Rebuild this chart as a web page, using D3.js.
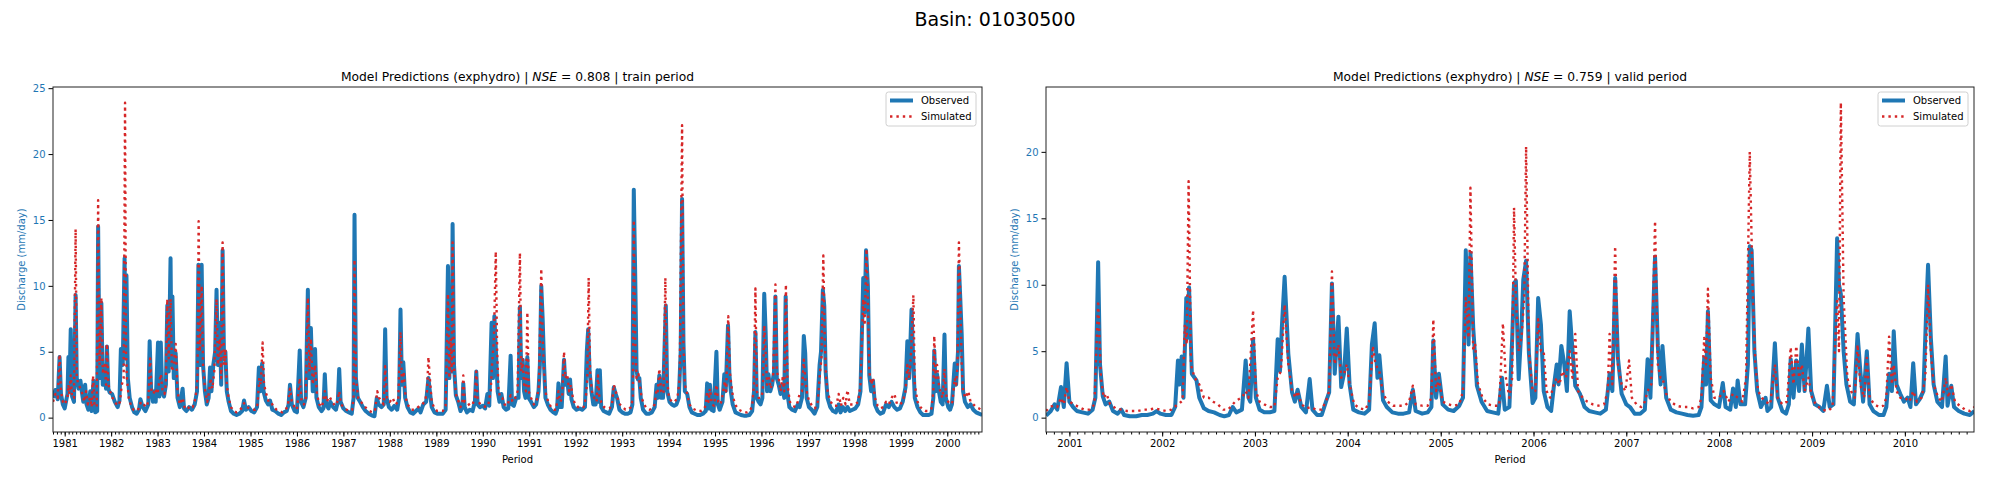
<!doctype html>
<html lang="">

<head>
    <meta charset="utf-8">
    <title>Basin 01030500 - Model Predictions</title>
    <style type="text/css">
        body {
            margin: 0px;
            background: #ffffff;
        }

        svg text {
            font-family: "DejaVu Sans", sans-serif;
        }
    </style>
</head>

<body>
    <script src="https://cdnjs.cloudflare.com/ajax/libs/d3/7.8.5/d3.min.js"></script>
    <div id="chart"></div>
    <script>
        // values: [decimal year, discharge mm/day]
        var trainObs = [[1980.75,1.5],[1980.80,2.1],[1980.85,1.4],[1980.89,4.6],[1980.92,1.8],[1980.96,1.0],[1981.00,0.7],[1981.06,1.8],[1981.08,4.6],[1981.10,2.0],[1981.13,6.7],[1981.16,1.6],[1981.20,1.2],[1981.235,9.3],[1981.26,3.0],[1981.30,2.2],[1981.34,2.8],[1981.36,2.2],[1981.40,1.2],[1981.44,2.5],[1981.47,1.0],[1981.51,0.6],[1981.55,2.0],[1981.58,0.5],[1981.62,2.8],[1981.66,0.4],[1981.70,0.5],[1981.72,14.5],[1981.75,3.0],[1981.79,8.7],[1981.82,2.5],[1981.86,3.5],[1981.89,2.2],[1981.91,5.4],[1981.94,2.2],[1981.97,1.9],[1982.02,1.8],[1982.08,1.2],[1982.14,0.8],[1982.18,1.3],[1982.21,5.2],[1982.25,4.0],[1982.29,12.1],[1982.31,4.5],[1982.33,10.8],[1982.36,3.0],[1982.40,1.5],[1982.45,0.8],[1982.50,0.4],[1982.55,0.3],[1982.60,0.6],[1982.63,1.4],[1982.68,0.8],[1982.74,0.5],[1982.80,1.0],[1982.83,5.8],[1982.86,2.2],[1982.90,1.2],[1982.93,2.0],[1982.96,1.2],[1983.01,5.7],[1983.04,1.6],[1983.07,5.7],[1983.10,2.0],[1983.14,1.6],[1983.18,2.5],[1983.21,8.5],[1983.24,3.5],[1983.28,12.1],[1983.30,4.0],[1983.32,9.2],[1983.35,3.0],[1983.39,4.9],[1983.43,1.5],[1983.48,0.8],[1983.54,2.2],[1983.57,0.7],[1983.62,0.5],[1983.68,0.8],[1983.74,0.6],[1983.80,1.0],[1983.85,2.0],[1983.88,11.6],[1983.91,4.0],[1983.95,11.6],[1983.98,4.0],[1984.02,2.0],[1984.06,1.0],[1984.10,1.5],[1984.13,3.8],[1984.16,2.0],[1984.20,4.0],[1984.24,5.0],[1984.27,9.7],[1984.30,4.0],[1984.34,7.2],[1984.37,2.5],[1984.40,12.7],[1984.43,4.5],[1984.46,5.0],[1984.49,2.0],[1984.53,1.2],[1984.58,0.5],[1984.64,0.3],[1984.70,0.2],[1984.76,0.3],[1984.82,0.5],[1984.86,1.3],[1984.90,0.6],[1984.96,0.8],[1985.02,0.5],[1985.08,0.4],[1985.14,0.8],[1985.18,3.8],[1985.21,2.0],[1985.25,4.1],[1985.28,2.0],[1985.33,1.3],[1985.38,1.0],[1985.42,1.3],[1985.47,0.6],[1985.53,0.5],[1985.60,0.3],[1985.66,0.2],[1985.72,0.4],[1985.78,0.5],[1985.82,1.0],[1985.85,2.5],[1985.89,1.0],[1985.95,0.5],[1986.00,0.4],[1986.06,5.1],[1986.09,1.2],[1986.14,0.8],[1986.19,1.5],[1986.235,9.7],[1986.26,3.0],[1986.30,6.8],[1986.34,2.0],[1986.39,5.2],[1986.42,1.5],[1986.47,0.8],[1986.53,0.5],[1986.57,0.7],[1986.60,3.3],[1986.63,1.0],[1986.68,0.7],[1986.72,1.2],[1986.78,0.8],[1986.84,0.6],[1986.88,1.2],[1986.91,3.7],[1986.94,1.2],[1987.00,0.7],[1987.06,0.5],[1987.12,0.4],[1987.18,0.3],[1987.22,1.5],[1987.24,15.4],[1987.27,3.0],[1987.31,1.5],[1987.36,1.2],[1987.42,0.8],[1987.48,0.5],[1987.55,0.3],[1987.62,0.15],[1987.67,0.1],[1987.72,1.5],[1987.76,1.0],[1987.82,0.8],[1987.87,1.0],[1987.90,6.7],[1987.93,1.5],[1987.98,0.8],[1988.04,0.6],[1988.10,0.9],[1988.16,0.6],[1988.20,1.5],[1988.23,8.2],[1988.26,2.5],[1988.29,4.2],[1988.33,1.5],[1988.38,0.8],[1988.44,0.4],[1988.50,0.3],[1988.56,0.5],[1988.62,0.7],[1988.66,0.4],[1988.72,1.0],[1988.78,1.2],[1988.83,3.0],[1988.86,2.0],[1988.90,0.8],[1988.96,0.4],[1989.02,0.3],[1989.08,0.3],[1989.14,0.3],[1989.20,0.6],[1989.25,11.5],[1989.28,3.0],[1989.30,8.0],[1989.33,3.5],[1989.35,14.7],[1989.38,4.0],[1989.42,1.7],[1989.47,1.2],[1989.52,0.5],[1989.56,0.8],[1989.58,2.6],[1989.61,0.8],[1989.66,0.4],[1989.72,0.6],[1989.78,0.5],[1989.83,1.2],[1989.86,3.5],[1989.89,1.0],[1989.94,0.8],[1990.00,0.9],[1990.05,0.7],[1990.10,1.8],[1990.14,0.9],[1990.19,7.2],[1990.22,3.0],[1990.25,7.7],[1990.29,4.5],[1990.32,2.0],[1990.36,1.2],[1990.40,1.8],[1990.45,0.8],[1990.50,0.6],[1990.55,0.7],[1990.60,4.7],[1990.63,1.0],[1990.67,0.9],[1990.72,1.5],[1990.77,1.5],[1990.80,8.4],[1990.83,3.0],[1990.86,4.4],[1990.89,2.0],[1990.92,1.5],[1990.96,4.6],[1990.99,1.5],[1991.04,1.2],[1991.10,0.8],[1991.15,1.0],[1991.20,2.0],[1991.23,4.0],[1991.26,10.0],[1991.29,7.5],[1991.32,4.0],[1991.35,1.5],[1991.40,1.0],[1991.46,0.6],[1991.52,0.4],[1991.57,0.3],[1991.60,0.6],[1991.63,2.6],[1991.66,0.8],[1991.70,0.8],[1991.75,4.4],[1991.78,2.5],[1991.82,2.9],[1991.85,1.8],[1991.88,2.9],[1991.91,1.4],[1991.96,0.8],[1992.02,0.6],[1992.08,0.7],[1992.14,0.6],[1992.20,0.8],[1992.24,5.0],[1992.27,6.7],[1992.30,3.5],[1992.34,2.0],[1992.38,1.0],[1992.43,1.0],[1992.47,3.6],[1992.49,1.2],[1992.52,3.6],[1992.55,0.8],[1992.60,0.5],[1992.66,0.4],[1992.72,0.3],[1992.78,0.8],[1992.82,2.3],[1992.86,1.8],[1992.89,1.5],[1992.94,0.6],[1993.00,0.4],[1993.06,0.3],[1993.12,0.3],[1993.18,0.4],[1993.22,1.0],[1993.25,17.3],[1993.28,11.0],[1993.31,3.6],[1993.34,2.9],[1993.37,3.0],[1993.40,1.5],[1993.45,0.6],[1993.52,0.3],[1993.58,0.3],[1993.64,0.4],[1993.70,0.8],[1993.74,2.5],[1993.77,1.5],[1993.80,3.2],[1993.84,1.5],[1993.88,1.5],[1993.94,8.5],[1993.97,2.0],[1994.02,1.2],[1994.07,1.0],[1994.12,0.9],[1994.17,1.0],[1994.22,1.5],[1994.26,5.0],[1994.29,16.6],[1994.32,5.7],[1994.35,2.0],[1994.40,1.8],[1994.45,0.8],[1994.50,0.4],[1994.56,0.3],[1994.62,0.2],[1994.68,0.2],[1994.74,0.3],[1994.80,0.5],[1994.83,2.6],[1994.86,0.7],[1994.89,2.5],[1994.92,0.6],[1994.97,0.5],[1995.03,5.0],[1995.06,1.0],[1995.10,0.6],[1995.16,1.2],[1995.20,3.3],[1995.23,2.0],[1995.28,7.0],[1995.31,3.3],[1995.34,2.0],[1995.38,1.0],[1995.44,0.4],[1995.50,0.3],[1995.56,0.2],[1995.62,0.15],[1995.68,0.15],[1995.74,0.2],[1995.80,0.5],[1995.84,2.0],[1995.87,6.5],[1995.90,1.5],[1995.94,1.2],[1995.98,1.0],[1996.02,1.5],[1996.06,9.4],[1996.09,6.5],[1996.12,2.0],[1996.15,3.3],[1996.19,2.0],[1996.23,2.5],[1996.27,3.5],[1996.30,9.2],[1996.33,3.0],[1996.37,2.5],[1996.41,1.8],[1996.45,2.5],[1996.49,1.5],[1996.52,9.2],[1996.55,2.0],[1996.60,0.8],[1996.66,0.6],[1996.72,0.5],[1996.78,1.0],[1996.82,0.8],[1996.87,1.5],[1996.91,6.2],[1996.94,4.9],[1996.97,1.5],[1997.02,0.8],[1997.08,0.6],[1997.14,0.3],[1997.20,0.8],[1997.25,4.0],[1997.28,5.0],[1997.32,9.7],[1997.35,8.5],[1997.38,3.5],[1997.42,1.5],[1997.48,0.8],[1997.54,0.5],[1997.60,0.4],[1997.66,1.0],[1997.70,0.4],[1997.75,0.8],[1997.80,0.5],[1997.85,0.8],[1997.90,0.5],[1997.96,0.6],[1998.02,0.7],[1998.08,1.0],[1998.13,2.0],[1998.19,10.6],[1998.22,8.0],[1998.25,12.7],[1998.29,10.0],[1998.32,3.2],[1998.36,2.0],[1998.40,2.8],[1998.44,1.0],[1998.50,0.5],[1998.56,0.3],[1998.62,0.4],[1998.68,1.0],[1998.74,0.8],[1998.80,1.2],[1998.86,0.8],[1998.92,0.6],[1998.98,0.7],[1999.04,1.2],[1999.10,2.3],[1999.14,5.8],[1999.18,3.0],[1999.23,8.2],[1999.26,5.0],[1999.30,1.5],[1999.36,0.8],[1999.42,0.4],[1999.48,0.2],[1999.54,0.2],[1999.60,0.2],[1999.66,0.3],[1999.70,1.5],[1999.72,5.1],[1999.75,2.0],[1999.78,3.3],[1999.82,2.0],[1999.86,1.2],[1999.90,1.0],[1999.94,6.3],[1999.97,1.5],[2000.02,0.8],[2000.06,0.6],[2000.10,1.0],[2000.16,4.1],[2000.19,2.5],[2000.23,5.0],[2000.25,11.5],[2000.28,9.0],[2000.31,6.3],[2000.34,2.0],[2000.38,1.2],[2000.44,0.8],[2000.50,1.0],[2000.56,0.6],[2000.62,0.4],[2000.68,0.3],[2000.75,0.2]];

        var trainSim = [[1980.75,1.2],[1980.80,1.8],[1980.85,1.5],[1980.89,4.8],[1980.92,2.0],[1980.96,1.2],[1981.00,1.0],[1981.06,1.5],[1981.08,2.5],[1981.10,1.8],[1981.13,3.2],[1981.16,1.5],[1981.20,1.5],[1981.235,14.3],[1981.26,3.0],[1981.30,2.5],[1981.34,2.2],[1981.38,1.8],[1981.42,1.2],[1981.46,2.0],[1981.50,1.0],[1981.55,1.5],[1981.58,0.8],[1981.61,3.2],[1981.64,1.0],[1981.69,0.8],[1981.72,16.5],[1981.75,4.0],[1981.79,9.1],[1981.82,3.5],[1981.86,4.0],[1981.89,2.5],[1981.91,5.6],[1981.94,2.5],[1981.98,2.0],[1982.03,1.5],[1982.08,1.2],[1982.14,0.9],[1982.19,1.2],[1982.23,2.5],[1982.27,3.0],[1982.30,23.9],[1982.32,5.0],[1982.34,3.0],[1982.38,1.5],[1982.43,0.9],[1982.48,0.6],[1982.54,0.5],[1982.60,0.7],[1982.64,1.2],[1982.70,1.0],[1982.76,0.8],[1982.80,1.2],[1982.84,4.5],[1982.87,2.0],[1982.91,1.8],[1982.95,2.2],[1983.00,1.8],[1983.03,2.6],[1983.07,3.3],[1983.11,2.0],[1983.15,1.8],[1983.18,2.6],[1983.21,9.0],[1983.24,4.5],[1983.28,9.0],[1983.31,3.5],[1983.35,4.0],[1983.39,5.6],[1983.43,2.0],[1983.48,1.0],[1983.54,1.5],[1983.58,0.8],[1983.64,0.6],[1983.70,0.9],[1983.76,0.8],[1983.82,1.5],[1983.86,3.0],[1983.885,14.9],[1983.91,5.0],[1983.95,10.0],[1983.98,4.0],[1984.02,2.2],[1984.07,1.2],[1984.11,2.0],[1984.14,3.0],[1984.18,2.2],[1984.22,3.5],[1984.27,9.0],[1984.30,4.0],[1984.34,6.0],[1984.37,3.0],[1984.40,13.3],[1984.43,4.0],[1984.46,5.2],[1984.49,2.5],[1984.53,1.5],[1984.58,0.8],[1984.64,0.5],[1984.70,0.4],[1984.76,0.5],[1984.82,0.8],[1984.86,1.1],[1984.92,0.8],[1984.98,0.7],[1985.04,0.6],[1985.10,0.6],[1985.15,1.0],[1985.19,3.0],[1985.22,2.5],[1985.26,5.7],[1985.29,2.5],[1985.34,1.8],[1985.39,1.2],[1985.44,1.2],[1985.50,0.8],[1985.56,0.6],[1985.62,0.5],[1985.68,0.4],[1985.74,0.6],[1985.80,0.8],[1985.85,2.2],[1985.89,1.2],[1985.95,0.8],[1986.00,0.6],[1986.06,3.0],[1986.10,1.2],[1986.15,1.0],[1986.19,1.5],[1986.235,9.1],[1986.27,3.5],[1986.30,6.0],[1986.34,2.5],[1986.39,4.0],[1986.43,1.8],[1986.48,1.0],[1986.54,0.8],[1986.60,2.0],[1986.64,1.2],[1986.70,1.6],[1986.76,1.2],[1986.82,0.9],[1986.87,1.2],[1986.91,2.0],[1986.95,1.0],[1987.01,0.8],[1987.07,0.6],[1987.13,0.5],[1987.19,0.6],[1987.22,1.5],[1987.24,12.0],[1987.27,3.0],[1987.32,1.5],[1987.38,1.2],[1987.44,0.9],[1987.50,0.7],[1987.56,0.5],[1987.62,0.4],[1987.68,0.5],[1987.73,2.0],[1987.77,1.5],[1987.83,1.2],[1987.87,1.0],[1987.90,3.9],[1987.94,1.5],[1988.00,1.2],[1988.06,1.5],[1988.12,1.0],[1988.18,1.2],[1988.23,6.5],[1988.26,2.5],[1988.30,3.5],[1988.34,1.5],[1988.40,0.9],[1988.46,0.6],[1988.52,0.6],[1988.58,0.7],[1988.64,0.9],[1988.70,1.0],[1988.76,1.3],[1988.80,2.0],[1988.83,4.6],[1988.86,3.0],[1988.90,1.2],[1988.96,0.7],[1989.02,0.5],[1989.08,0.5],[1989.14,0.5],[1989.20,0.9],[1989.25,9.4],[1989.28,3.0],[1989.31,6.0],[1989.33,3.5],[1989.35,13.3],[1989.38,4.0],[1989.42,1.8],[1989.47,1.3],[1989.52,0.8],[1989.56,1.0],[1989.58,3.2],[1989.61,1.2],[1989.66,1.2],[1989.72,0.9],[1989.78,1.0],[1989.83,1.5],[1989.86,3.5],[1989.89,1.3],[1989.95,1.0],[1990.01,0.9],[1990.07,0.8],[1990.12,1.0],[1990.17,2.0],[1990.20,4.0],[1990.24,6.0],[1990.28,12.6],[1990.31,5.0],[1990.34,2.0],[1990.38,1.5],[1990.42,1.5],[1990.47,1.0],[1990.53,0.9],[1990.60,1.7],[1990.64,1.2],[1990.70,1.5],[1990.75,2.0],[1990.80,12.5],[1990.83,3.5],[1990.86,4.4],[1990.89,2.5],[1990.93,2.0],[1990.96,8.0],[1990.99,2.0],[1991.04,1.5],[1991.10,1.0],[1991.16,1.2],[1991.21,2.5],[1991.26,11.3],[1991.29,6.0],[1991.32,3.5],[1991.36,1.8],[1991.41,1.2],[1991.47,0.8],[1991.53,0.6],[1991.58,0.6],[1991.63,2.0],[1991.67,1.2],[1991.71,1.5],[1991.75,5.0],[1991.78,3.0],[1991.82,3.3],[1991.86,2.0],[1991.90,2.5],[1991.94,1.5],[1991.99,1.0],[1992.05,0.8],[1992.11,0.9],[1992.17,0.8],[1992.22,1.5],[1992.25,3.0],[1992.28,10.6],[1992.31,3.5],[1992.35,2.0],[1992.40,1.5],[1992.45,1.2],[1992.48,3.2],[1992.51,1.5],[1992.55,1.2],[1992.61,0.8],[1992.67,0.7],[1992.73,0.7],[1992.78,1.0],[1992.82,2.5],[1992.86,2.0],[1992.90,1.5],[1992.95,1.0],[1993.01,0.8],[1993.07,0.6],[1993.13,0.6],[1993.19,0.8],[1993.23,1.5],[1993.25,15.0],[1993.28,6.0],[1993.31,3.0],[1993.35,3.3],[1993.38,2.5],[1993.42,1.5],[1993.47,1.0],[1993.53,0.7],[1993.59,0.6],[1993.65,0.7],[1993.70,1.0],[1993.74,2.2],[1993.77,2.0],[1993.80,3.7],[1993.84,2.0],[1993.89,1.8],[1993.93,10.6],[1993.96,3.0],[1994.01,1.5],[1994.07,1.2],[1994.13,1.2],[1994.19,1.5],[1994.24,3.0],[1994.29,22.2],[1994.32,5.5],[1994.35,2.5],[1994.40,1.8],[1994.45,1.0],[1994.51,0.7],[1994.57,0.6],[1994.63,0.5],[1994.69,0.5],[1994.75,0.6],[1994.80,0.9],[1994.83,2.0],[1994.86,1.2],[1994.89,2.2],[1994.93,1.0],[1994.98,0.9],[1995.03,2.5],[1995.07,1.2],[1995.12,1.0],[1995.17,1.8],[1995.21,2.8],[1995.24,2.0],[1995.285,7.7],[1995.32,3.5],[1995.35,2.5],[1995.39,1.5],[1995.45,0.9],[1995.51,0.6],[1995.57,0.5],[1995.63,0.4],[1995.69,0.4],[1995.75,0.5],[1995.80,0.9],[1995.84,2.5],[1995.87,9.8],[1995.90,2.0],[1995.94,1.5],[1995.99,1.5],[1996.03,2.0],[1996.06,7.0],[1996.09,5.0],[1996.12,2.5],[1996.16,3.0],[1996.20,2.2],[1996.25,3.0],[1996.30,10.1],[1996.33,3.5],[1996.37,3.0],[1996.41,2.0],[1996.45,3.0],[1996.49,2.0],[1996.525,10.1],[1996.56,2.5],[1996.61,1.2],[1996.67,0.9],[1996.73,0.8],[1996.78,1.2],[1996.82,1.8],[1996.87,2.0],[1996.91,4.4],[1996.94,3.0],[1996.98,1.8],[1997.03,1.2],[1997.09,0.9],[1997.15,0.7],[1997.21,1.2],[1997.26,3.5],[1997.29,4.5],[1997.33,12.3],[1997.36,6.0],[1997.39,3.0],[1997.43,1.8],[1997.49,1.2],[1997.55,0.9],[1997.61,0.9],[1997.66,1.8],[1997.71,0.9],[1997.76,1.5],[1997.81,1.0],[1997.85,2.1],[1997.90,1.0],[1997.96,1.0],[1998.02,1.0],[1998.08,1.2],[1998.13,2.5],[1998.19,9.0],[1998.22,7.0],[1998.26,12.8],[1998.29,9.0],[1998.32,3.5],[1998.36,2.5],[1998.40,3.0],[1998.44,1.5],[1998.50,0.9],[1998.56,0.7],[1998.62,0.8],[1998.68,1.2],[1998.74,1.0],[1998.80,1.5],[1998.86,1.8],[1998.92,1.0],[1998.98,1.0],[1999.04,1.2],[1999.10,2.0],[1999.14,4.0],[1999.18,3.0],[1999.22,5.0],[1999.27,9.3],[1999.30,2.5],[1999.36,1.2],[1999.42,0.8],[1999.48,0.6],[1999.54,0.5],[1999.60,0.5],[1999.66,0.7],[1999.70,2.0],[1999.72,6.2],[1999.75,3.0],[1999.78,4.0],[1999.82,2.5],[1999.86,1.8],[1999.90,1.5],[1999.94,3.7],[1999.97,1.8],[2000.02,1.2],[2000.07,1.0],[2000.11,1.2],[2000.16,3.0],[2000.19,2.5],[2000.22,4.0],[2000.25,13.3],[2000.28,9.0],[2000.31,4.0],[2000.34,2.0],[2000.39,1.5],[2000.45,2.0],[2000.50,1.2],[2000.56,1.0],[2000.62,0.8],[2000.68,0.7],[2000.75,0.5]];

        var validObs = [[2000.75,0.15],[2000.80,0.5],[2000.84,1.0],[2000.87,0.6],[2000.91,2.3],[2000.94,0.8],[2000.97,4.1],[2001.00,1.2],[2001.04,0.8],[2001.08,0.5],[2001.14,0.4],[2001.20,0.3],[2001.25,0.6],[2001.28,1.5],[2001.31,11.7],[2001.33,4.0],[2001.36,1.6],[2001.39,1.0],[2001.43,1.2],[2001.47,0.5],[2001.52,0.3],[2001.56,0.6],[2001.59,0.2],[2001.65,0.1],[2001.72,0.1],[2001.78,0.2],[2001.84,0.2],[2001.90,0.3],[2001.94,0.5],[2001.98,0.3],[2002.04,0.2],[2002.10,0.2],[2002.14,0.8],[2002.17,4.3],[2002.19,2.5],[2002.21,4.6],[2002.23,1.5],[2002.26,9.0],[2002.27,6.0],[2002.29,9.8],[2002.32,3.3],[2002.37,2.8],[2002.40,1.5],[2002.45,0.7],[2002.50,0.5],[2002.56,0.4],[2002.62,0.2],[2002.67,0.1],[2002.72,0.2],[2002.76,0.8],[2002.80,0.4],[2002.86,0.6],[2002.90,4.3],[2002.93,1.5],[2002.95,1.2],[2002.98,5.9],[2003.01,1.5],[2003.05,0.6],[2003.10,0.4],[2003.16,0.4],[2003.21,0.5],[2003.245,5.9],[2003.27,3.5],[2003.29,6.8],[2003.32,10.6],[2003.36,4.8],[2003.40,1.9],[2003.43,1.2],[2003.46,2.1],[2003.50,0.8],[2003.55,0.4],[2003.59,2.9],[2003.62,0.6],[2003.67,0.2],[2003.72,0.2],[2003.77,1.3],[2003.80,1.9],[2003.83,10.1],[2003.86,3.3],[2003.90,7.6],[2003.93,2.3],[2003.96,3.3],[2003.99,6.7],[2004.02,2.5],[2004.06,0.6],[2004.12,0.4],[2004.18,0.3],[2004.23,0.6],[2004.26,5.5],[2004.29,7.1],[2004.32,3.0],[2004.34,4.7],[2004.38,1.3],[2004.42,0.8],[2004.48,0.4],[2004.54,0.3],[2004.60,0.3],[2004.66,0.4],[2004.70,2.1],[2004.73,0.5],[2004.80,0.3],[2004.86,0.4],[2004.90,0.8],[2004.92,5.8],[2004.95,1.5],[2004.98,3.3],[2005.02,1.0],[2005.08,0.6],[2005.14,0.5],[2005.20,0.9],[2005.24,1.5],[2005.27,12.6],[2005.30,5.5],[2005.32,12.4],[2005.35,6.8],[2005.39,2.4],[2005.44,1.2],[2005.50,0.5],[2005.56,0.4],[2005.62,0.3],[2005.66,3.0],[2005.69,0.6],[2005.74,0.8],[2005.77,5.9],[2005.79,10.1],[2005.81,10.3],[2005.84,2.9],[2005.87,6.8],[2005.89,10.4],[2005.92,11.8],[2005.95,4.9],[2005.99,1.1],[2006.02,1.5],[2006.05,9.0],[2006.08,7.0],[2006.11,2.0],[2006.15,0.8],[2006.19,0.5],[2006.22,2.4],[2006.25,4.0],[2006.27,2.5],[2006.30,5.4],[2006.33,4.1],[2006.36,2.0],[2006.39,8.0],[2006.42,5.1],[2006.45,2.4],[2006.50,1.8],[2006.55,0.8],[2006.60,0.5],[2006.66,0.4],[2006.72,0.3],[2006.78,0.6],[2006.82,3.3],[2006.85,2.0],[2006.88,10.5],[2006.91,4.5],[2006.95,1.8],[2007.00,1.0],[2007.04,0.8],[2007.09,0.3],[2007.15,0.3],[2007.20,0.6],[2007.23,4.4],[2007.26,1.5],[2007.31,12.1],[2007.34,5.4],[2007.37,2.5],[2007.39,5.4],[2007.43,1.5],[2007.48,0.6],[2007.54,0.4],[2007.60,0.3],[2007.66,0.2],[2007.72,0.15],[2007.78,0.2],[2007.81,0.8],[2007.84,4.5],[2007.86,2.5],[2007.88,8.0],[2007.91,1.3],[2007.95,1.0],[2008.00,0.8],[2008.04,2.6],[2008.07,0.8],[2008.12,0.6],[2008.15,2.2],[2008.18,0.8],[2008.20,2.8],[2008.23,1.0],[2008.28,1.0],[2008.31,4.0],[2008.33,12.9],[2008.35,12.6],[2008.38,5.0],[2008.41,2.0],[2008.45,0.8],[2008.50,1.5],[2008.52,0.5],[2008.56,0.8],[2008.60,5.6],[2008.63,1.5],[2008.68,0.5],[2008.72,0.3],[2008.75,1.0],[2008.77,4.4],[2008.80,1.5],[2008.83,4.3],[2008.86,2.0],[2008.89,5.5],[2008.92,2.0],[2008.96,6.7],[2008.99,2.0],[2009.03,1.0],[2009.08,0.8],[2009.12,0.5],[2009.16,2.4],[2009.19,0.8],[2009.23,1.0],[2009.27,13.5],[2009.29,10.0],[2009.31,9.3],[2009.34,5.0],[2009.37,2.5],[2009.41,1.2],[2009.45,1.0],[2009.49,6.3],[2009.52,3.5],[2009.55,1.2],[2009.59,5.0],[2009.62,1.0],[2009.66,0.5],[2009.72,0.2],[2009.77,0.2],[2009.80,0.8],[2009.83,3.3],[2009.86,2.0],[2009.88,6.5],[2009.91,2.5],[2009.95,1.8],[2009.99,1.2],[2010.03,1.5],[2010.06,0.8],[2010.09,4.1],[2010.12,1.0],[2010.16,1.4],[2010.20,2.0],[2010.23,8.1],[2010.25,11.5],[2010.28,6.0],[2010.31,2.5],[2010.35,1.2],[2010.40,0.8],[2010.44,4.6],[2010.46,0.9],[2010.50,2.4],[2010.53,0.8],[2010.58,0.5],[2010.64,0.3],[2010.70,0.2],[2010.75,0.5]];

        var validSim = [[2000.75,0.5],[2000.79,0.8],[2000.83,0.9],[2000.87,0.8],[2000.91,1.5],[2000.94,1.0],[2000.97,2.3],[2001.00,1.2],[2001.05,1.0],[2001.10,0.8],[2001.16,0.6],[2001.22,0.6],[2001.27,1.0],[2001.31,8.8],[2001.34,3.0],[2001.37,1.5],[2001.40,1.8],[2001.44,1.0],[2001.50,0.7],[2001.56,0.6],[2001.62,0.5],[2001.68,0.5],[2001.74,0.5],[2001.80,0.6],[2001.86,0.6],[2001.92,0.7],[2001.98,0.6],[2002.04,0.5],[2002.10,0.6],[2002.15,0.9],[2002.19,1.1],[2002.22,1.3],[2002.245,7.0],[2002.265,5.5],[2002.285,17.8],[2002.31,4.0],[2002.35,3.0],[2002.40,2.5],[2002.45,1.5],[2002.50,1.5],[2002.55,1.2],[2002.60,1.0],[2002.66,0.6],[2002.71,0.6],[2002.76,1.0],[2002.80,1.3],[2002.86,1.5],[2002.90,2.0],[2002.93,1.5],[2002.98,8.1],[2003.01,2.0],[2003.05,1.2],[2003.10,1.0],[2003.16,0.8],[2003.21,0.8],[2003.245,3.0],[2003.28,3.5],[2003.32,8.5],[2003.36,4.0],[2003.40,2.0],[2003.44,1.5],[2003.46,2.0],[2003.50,1.0],[2003.56,0.7],[2003.60,0.8],[2003.66,0.6],[2003.72,0.6],[2003.77,1.3],[2003.80,2.0],[2003.83,11.0],[2003.86,4.0],[2003.90,5.5],[2003.93,3.0],[2003.96,3.3],[2003.99,4.0],[2004.02,2.5],[2004.07,1.0],[2004.13,0.7],[2004.19,0.6],[2004.23,1.2],[2004.27,5.4],[2004.30,4.0],[2004.34,3.5],[2004.38,1.8],[2004.43,1.2],[2004.49,0.9],[2004.55,0.9],[2004.61,0.9],[2004.66,1.2],[2004.70,2.4],[2004.73,1.0],[2004.80,0.9],[2004.86,0.9],[2004.90,1.5],[2004.92,7.4],[2004.95,2.0],[2004.98,3.0],[2005.02,1.2],[2005.08,1.0],[2005.14,0.9],[2005.20,1.0],[2005.24,2.0],[2005.27,9.0],[2005.30,6.0],[2005.32,17.3],[2005.35,5.0],[2005.37,5.6],[2005.40,2.6],[2005.45,1.5],[2005.51,1.0],[2005.57,0.9],[2005.63,0.9],[2005.67,7.1],[2005.70,3.1],[2005.74,1.5],[2005.77,3.0],[2005.79,15.8],[2005.81,9.0],[2005.84,5.0],[2005.87,6.0],[2005.90,9.0],[2005.92,20.4],[2005.95,5.0],[2005.99,2.0],[2006.02,2.0],[2006.05,7.4],[2006.08,5.0],[2006.11,5.0],[2006.14,2.0],[2006.18,1.5],[2006.22,2.5],[2006.25,3.0],[2006.28,2.5],[2006.31,3.5],[2006.35,3.0],[2006.39,5.0],[2006.42,3.0],[2006.45,6.3],[2006.48,2.0],[2006.53,1.5],[2006.58,1.2],[2006.64,1.0],[2006.70,0.9],[2006.76,1.0],[2006.80,2.0],[2006.82,6.3],[2006.85,2.5],[2006.88,12.9],[2006.91,4.0],[2006.95,2.5],[2006.99,2.0],[2007.03,4.3],[2007.06,1.5],[2007.11,1.0],[2007.16,0.8],[2007.20,1.2],[2007.23,2.0],[2007.27,2.5],[2007.31,14.8],[2007.34,4.0],[2007.37,3.0],[2007.39,3.0],[2007.43,1.8],[2007.48,1.2],[2007.54,0.9],[2007.60,0.8],[2007.66,0.8],[2007.72,0.7],[2007.78,0.8],[2007.81,1.5],[2007.84,6.0],[2007.86,4.0],[2007.88,9.7],[2007.91,3.0],[2007.95,1.5],[2008.00,1.5],[2008.05,2.0],[2008.10,1.2],[2008.15,1.8],[2008.20,1.5],[2008.25,1.2],[2008.29,3.0],[2008.33,20.0],[2008.36,10.0],[2008.39,4.0],[2008.42,2.0],[2008.46,1.5],[2008.50,1.2],[2008.55,1.0],[2008.60,4.0],[2008.63,1.5],[2008.68,1.0],[2008.73,1.2],[2008.77,5.3],[2008.80,2.5],[2008.83,5.4],[2008.86,3.0],[2008.89,4.0],[2008.92,2.0],[2008.96,3.0],[2009.00,1.5],[2009.05,0.9],[2009.11,0.6],[2009.17,0.5],[2009.22,0.8],[2009.27,9.0],[2009.29,5.0],[2009.31,23.7],[2009.34,9.0],[2009.38,3.0],[2009.42,2.0],[2009.46,1.5],[2009.49,5.5],[2009.52,2.5],[2009.56,1.5],[2009.59,4.5],[2009.62,1.5],[2009.67,1.0],[2009.72,0.8],[2009.77,0.9],[2009.80,1.5],[2009.83,6.1],[2009.86,2.5],[2009.88,4.0],[2009.91,2.0],[2009.95,1.5],[2010.00,1.5],[2010.05,1.2],[2010.09,2.0],[2010.13,1.2],[2010.18,1.5],[2010.22,3.0],[2010.25,10.0],[2010.28,5.0],[2010.31,2.5],[2010.36,1.5],[2010.40,1.2],[2010.44,3.0],[2010.47,1.5],[2010.50,2.5],[2010.54,1.2],[2010.59,0.9],[2010.65,0.6],[2010.70,0.5],[2010.75,0.8]];

        var basinId = "01030500";
        var periodNames = ["train", "valid"];
        var nseValues = ["0.808", "0.759"];
        var periodStart = ["1980-10-01", "2000-10-01"];
        var periodEnd = ["2000-09-30", "2010-09-30"];
        var legendLabels = ["Observed", "Simulated"];

        var width = 1990, height = 482;
        var blue = "#1f77b4", red = "#d62728";

        // decimal year -> Date
        function toDate(t) {
            var y = Math.floor(t);
            var a = Date.UTC(y, 0, 1), b = Date.UTC(y + 1, 0, 1);
            return new Date(a + (t - y) * (b - a));
        }

        var svg = d3.select("#chart").append("svg")
            .attr("width", width)
            .attr("height", height);

        svg.append("text")
            .attr("x", 995)
            .attr("y", 26)
            .attr("text-anchor", "middle")
            .style("font-size", "19px")
            .text("Basin: " + basinId);

        var panels = [
            { left: 53, right: 982, obs: trainObs, sim: trainSim },
            { left: 1046, right: 1974, obs: validObs, sim: validSim }
        ];
        var plotTop = 87, plotBottom = 432;

        panels.forEach(function (p, i) {
            var parse = d3.utcParse("%Y-%m-%d");
            var x = d3.scaleUtc()
                .domain([parse(periodStart[i]), parse(periodEnd[i])])
                .range([p.left, p.right]);

            // matplotlib-like 5% margin around the data
            var all = p.obs.concat(p.sim).map(function (d) { return d[1]; });
            var lo = d3.min(all), hi = d3.max(all), pad = (hi - lo) * 0.05;
            var y = d3.scaleLinear()
                .domain([lo - pad, hi + pad])
                .range([plotBottom, plotTop]);

            var g = svg.append("g");

            g.append("clipPath").attr("id", "clip" + i)
                .append("rect")
                .attr("x", p.left).attr("y", plotTop)
                .attr("width", p.right - p.left).attr("height", plotBottom - plotTop);

            var line = d3.line()
                .x(function (d) { return x(toDate(d[0])); })
                .y(function (d) { return y(d[1]); });

            var plot = g.append("g").attr("clip-path", "url(#clip" + i + ")");
            plot.append("path")
                .datum(p.obs)
                .attr("d", line)
                .attr("fill", "none")
                .attr("stroke", blue)
                .attr("stroke-width", 4)
                .attr("stroke-linejoin", "round");
            plot.append("path")
                .datum(p.sim)
                .attr("d", line)
                .attr("fill", "none")
                .attr("stroke", red)
                .attr("stroke-width", 2.4)
                .attr("stroke-dasharray", "2.4,4")
                .attr("stroke-linejoin", "round");

            // x axis: years + monthly minor ticks
            var years = d3.utcYear.range(x.domain()[0], x.domain()[1]);
            var months = d3.utcMonth.range(x.domain()[0], x.domain()[1]);
            g.append("g")
                .attr("transform", "translate(0," + plotBottom + ")")
                .call(d3.axisBottom(x).tickValues(months).tickFormat("").tickSize(2.5).tickSizeOuter(0))
                .call(function (s) { s.select(".domain").remove(); });
            var xa = g.append("g")
                .attr("transform", "translate(0," + plotBottom + ")")
                .call(d3.axisBottom(x).tickValues(years).tickFormat(d3.utcFormat("%Y")).tickSize(4.5).tickPadding(3).tickSizeOuter(0));
            xa.select(".domain").remove();
            xa.selectAll("text").style("font-size", "10px").attr("fill", "#000");

            // y axis
            var yt = d3.range(0, y.domain()[1], 5);
            var ya = g.append("g")
                .attr("transform", "translate(" + p.left + ",0)")
                .call(d3.axisLeft(y).tickValues(yt).tickFormat(d3.format("d")).tickSize(4.5).tickPadding(3).tickSizeOuter(0));
            ya.select(".domain").remove();
            ya.selectAll("text").style("font-size", "10px").attr("fill", blue);

            // frame
            g.append("rect")
                .attr("x", p.left).attr("y", plotTop)
                .attr("width", p.right - p.left).attr("height", plotBottom - plotTop)
                .attr("fill", "none")
                .attr("stroke", "#222")
                .attr("stroke-width", 1);

            var cx = (p.left + p.right) / 2;
            var title = g.append("text")
                .attr("x", cx).attr("y", 81)
                .attr("text-anchor", "middle")
                .style("font-size", "12.3px");
            title.append("tspan").text("Model Predictions (exphydro) | ");
            title.append("tspan").style("font-style", "italic").text("NSE");
            title.append("tspan").text(" = " + nseValues[i] + " | " + periodNames[i] + " period");

            g.append("text")
                .attr("x", cx).attr("y", 463)
                .attr("text-anchor", "middle")
                .style("font-size", "10px")
                .text("Period");

            g.append("text")
                .attr("transform", "translate(" + (p.left - 28) + "," + ((plotTop + plotBottom) / 2) + ") rotate(-90)")
                .attr("text-anchor", "middle")
                .style("font-size", "10px")
                .attr("fill", blue)
                .text("Discharge (mm/day)");

            // legend
            var lw = 90, lh = 34;
            var lx = p.right - 6 - lw, ly = plotTop + 5;
            var leg = g.append("g");
            leg.append("rect")
                .attr("x", lx).attr("y", ly)
                .attr("width", lw).attr("height", lh)
                .attr("rx", 2.5)
                .attr("fill", "#fff").attr("fill-opacity", 0.8)
                .attr("stroke", "#d0d0d0");
            [[blue, 4, null], [red, 2.4, "2.4,4"]].forEach(function (s, k) {
                var yy = ly + 8.5 + k * 16;
                leg.append("line")
                    .attr("x1", lx + 4).attr("x2", lx + 27)
                    .attr("y1", yy).attr("y2", yy)
                    .attr("stroke", s[0])
                    .attr("stroke-width", s[1])
                    .attr("stroke-dasharray", s[2]);
                leg.append("text")
                    .attr("x", lx + 35).attr("y", yy + 3.6)
                    .style("font-size", "10px")
                    .text(legendLabels[k]);
            });
        });
    </script>
</body>

</html>
